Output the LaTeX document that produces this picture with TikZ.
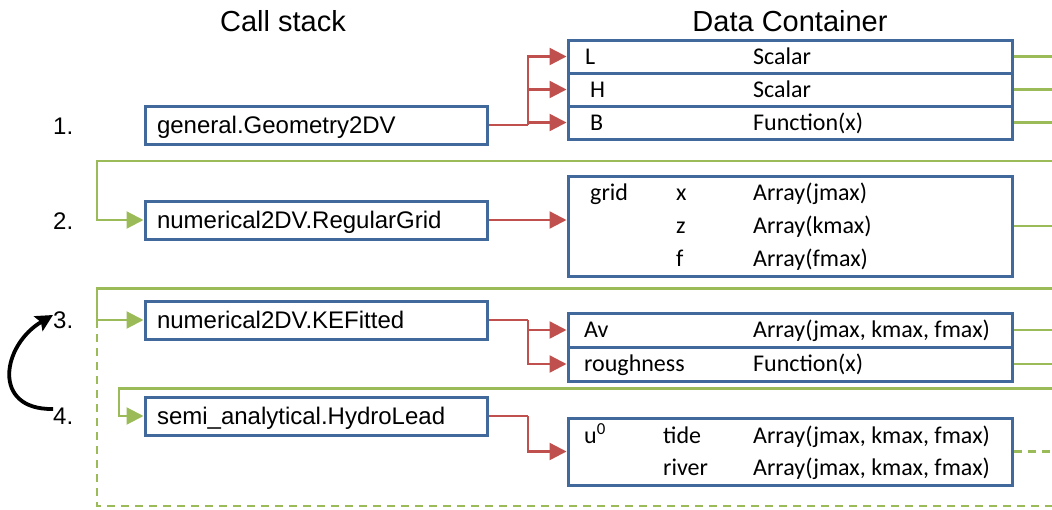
\documentclass[tikz,border=0pt]{standalone}
\usepackage{fontspec}
\setmainfont{Liberation Sans}
\newfontfamily\carl{Carlito}
\usetikzlibrary{arrows.meta}
\definecolor{cblue}{HTML}{41699C}
\definecolor{cred}{HTML}{C0504D}
\definecolor{cgreen}{HTML}{9BBB59}
\begin{document}
\begin{tikzpicture}[x=1pt,y=-1pt,
  callbox/.style={draw=cblue,line width=3pt,minimum width=342pt,minimum height=38pt,
    inner ysep=0pt,inner xsep=12pt,text width=318pt,align=left,
    text height=17.2pt,text depth=0pt,font=\fontsize{24}{28}\selectfont},
  numlabel/.style={anchor=west,inner sep=0pt,text height=17.2pt,text depth=0pt,
    font=\fontsize{24}{28}\selectfont},
  title/.style={inner sep=0pt,font=\fontsize{29}{34}\selectfont},
  datarow/.style={draw=cblue,line width=3pt,minimum width=444pt,inner sep=0pt},
  dtext/.style={anchor=west,inner sep=0pt,text height=15.4pt,text depth=0pt,
    font=\carl\fontsize{24}{28}\selectfont},
  redline/.style={draw=cred,line width=2.4pt},
  redarrow/.style={redline,-{Triangle[length=17pt,width=17pt]}},
  greenline/.style={draw=cgreen,line width=2.2pt},
  greenarrow/.style={greenline,-{Triangle[length=17pt,width=17pt]}},
  greendash/.style={greenline,dash pattern=on 8pt off 6pt},
  swap/.style={draw=black,line width=3.8pt,-{Stealth[length=17pt,width=17pt,inset=3pt]}}
]
\useasboundingbox (0,0) rectangle (1052,509);

% titles
\node[title] (t1) at (283,21) {Call stack};
\node[title] (t2) at (790,21) {Data Container};

% call stack boxes
\node[callbox] (c1) at (316,125) {general.Geometry2DV};
\node[callbox] (c2) at (316,220) {numerical2DV.RegularGrid};
\node[callbox] (c3) at (316,320) {numerical2DV.KEFitted};
\node[callbox] (c4) at (316,416) {semi\_analytical.HydroLead};

% numbers
\node[numlabel] (n1) at (53,126) {1.};
\node[numlabel] (n2) at (53,221) {2.};
\node[numlabel] (n3) at (53,320) {3.};
\node[numlabel] (n4) at (53,416) {4.};

% data container 1
\node[datarow,minimum height=33pt] (d1a) at (790,56.5) {};
\node[datarow,minimum height=33pt] (d1b) at (790,89.5) {};
\node[datarow,minimum height=33pt] (d1c) at (790,122.5) {};
\node[dtext] (l1) at (585,56.5) {L};
\node[dtext] (l1t) at (753,56.5) {Scalar};
\node[dtext] (l2) at (590,89.5) {H};
\node[dtext] (l2t) at (753,89.5) {Scalar};
\node[dtext] (l3) at (590,122.5) {B};
\node[dtext] (l3t) at (753,122.5) {Function(x)};

% data container 2
\node[datarow,minimum height=100pt] (d2) at (790,226) {};
\node[dtext] (g0) at (590,193) {grid};
\node[dtext] (gx) at (676,193) {x};
\node[dtext] (gxt) at (753,193) {Array(jmax)};
\node[dtext] (gz) at (676,226) {z};
\node[dtext] (gzt) at (753,226) {Array(kmax)};
\node[dtext] (gf) at (676,259) {f};
\node[dtext] (gft) at (753,259) {Array(fmax)};

% data container 3
\node[datarow,minimum height=34pt] (d3a) at (790,330) {};
\node[datarow,minimum height=34pt] (d3b) at (790,364) {};
\node[dtext] (av) at (584,330) {Av};
\node[dtext] (avt) at (753,330) {Array(jmax, kmax, fmax)};
\node[dtext] (ro) at (584,364) {roughness};
\node[dtext] (rot) at (753,364) {Function(x)};

% data container 4
\node[datarow,minimum height=67pt] (d4) at (790,451.5) {};
\node[dtext] (u0) at (584,436) {u\textsuperscript{0}};
\node[dtext] (ti) at (663,436) {tide};
\node[dtext] (tit) at (753,436) {Array(jmax, kmax, fmax)};
\node[dtext] (ri) at (663,468) {river};
\node[dtext] (rit) at (753,468) {Array(jmax, kmax, fmax)};

% red connectors
\coordinate (b1) at (528,125);
\draw[redline] (c1.east) -- (b1);
\draw[redarrow] (b1) |- (d1a.west);
\draw[redarrow] (b1) |- (d1b.west);
\draw[redarrow] (b1) |- (d1c.west);
\draw[redarrow] (c2.east) -- (c2.east -| d2.west);
\coordinate (b3) at (528,320);
\draw[redline] (c3.east) -- (b3);
\draw[redarrow] (b3) |- (d3a.west);
\draw[redarrow] (b3) |- (d3b.west);
\coordinate (b4) at (528,416);
\draw[redline] (c4.east) -- (b4);
\draw[redarrow] (b4) |- (d4.west);

% green outputs to the right
\draw[greenline] (d1a.east) -- ++(40,0);
\draw[greenline] (d1b.east) -- ++(40,0);
\draw[greenline] (d1c.east) -- ++(40,0);
\draw[greenline] (d2.east) -- ++(40,0);
\draw[greenline] (d3a.east) -- ++(40,0);
\draw[greenline] (d3b.east) -- ++(40,0);
\draw[greendash] (d4.east) -- ++(40,0);

% green feedback lines
\coordinate (g2s) at (1052,160.7);
\coordinate (g2k) at (97,160.7);
\draw[greenarrow] (g2s) -- (g2k) |- (c2.west);
\coordinate (g3s) at (1052,288.5);
\coordinate (g3k) at (97,288.5);
\draw[greenarrow] (g3s) -- (g3k) |- (c3.west);
\coordinate (g4s) at (1052,388.5);
\coordinate (g4k) at (119,388.5);
\draw[greenarrow] (g4s) -- (g4k) |- (c4.west);
\coordinate (gd1) at (97,320);
\coordinate (gd2) at (97,506);
\coordinate (gd3) at (1052,506);
\draw[greendash] (gd1) -- (gd2) -- (gd3);

% swap arrow
\coordinate (a4) at (53,409);
\coordinate (a3) at (53,315);
\draw[swap] (a4) .. controls (-9,410) and (2,345) .. (a3);
\end{tikzpicture}
\end{document}
